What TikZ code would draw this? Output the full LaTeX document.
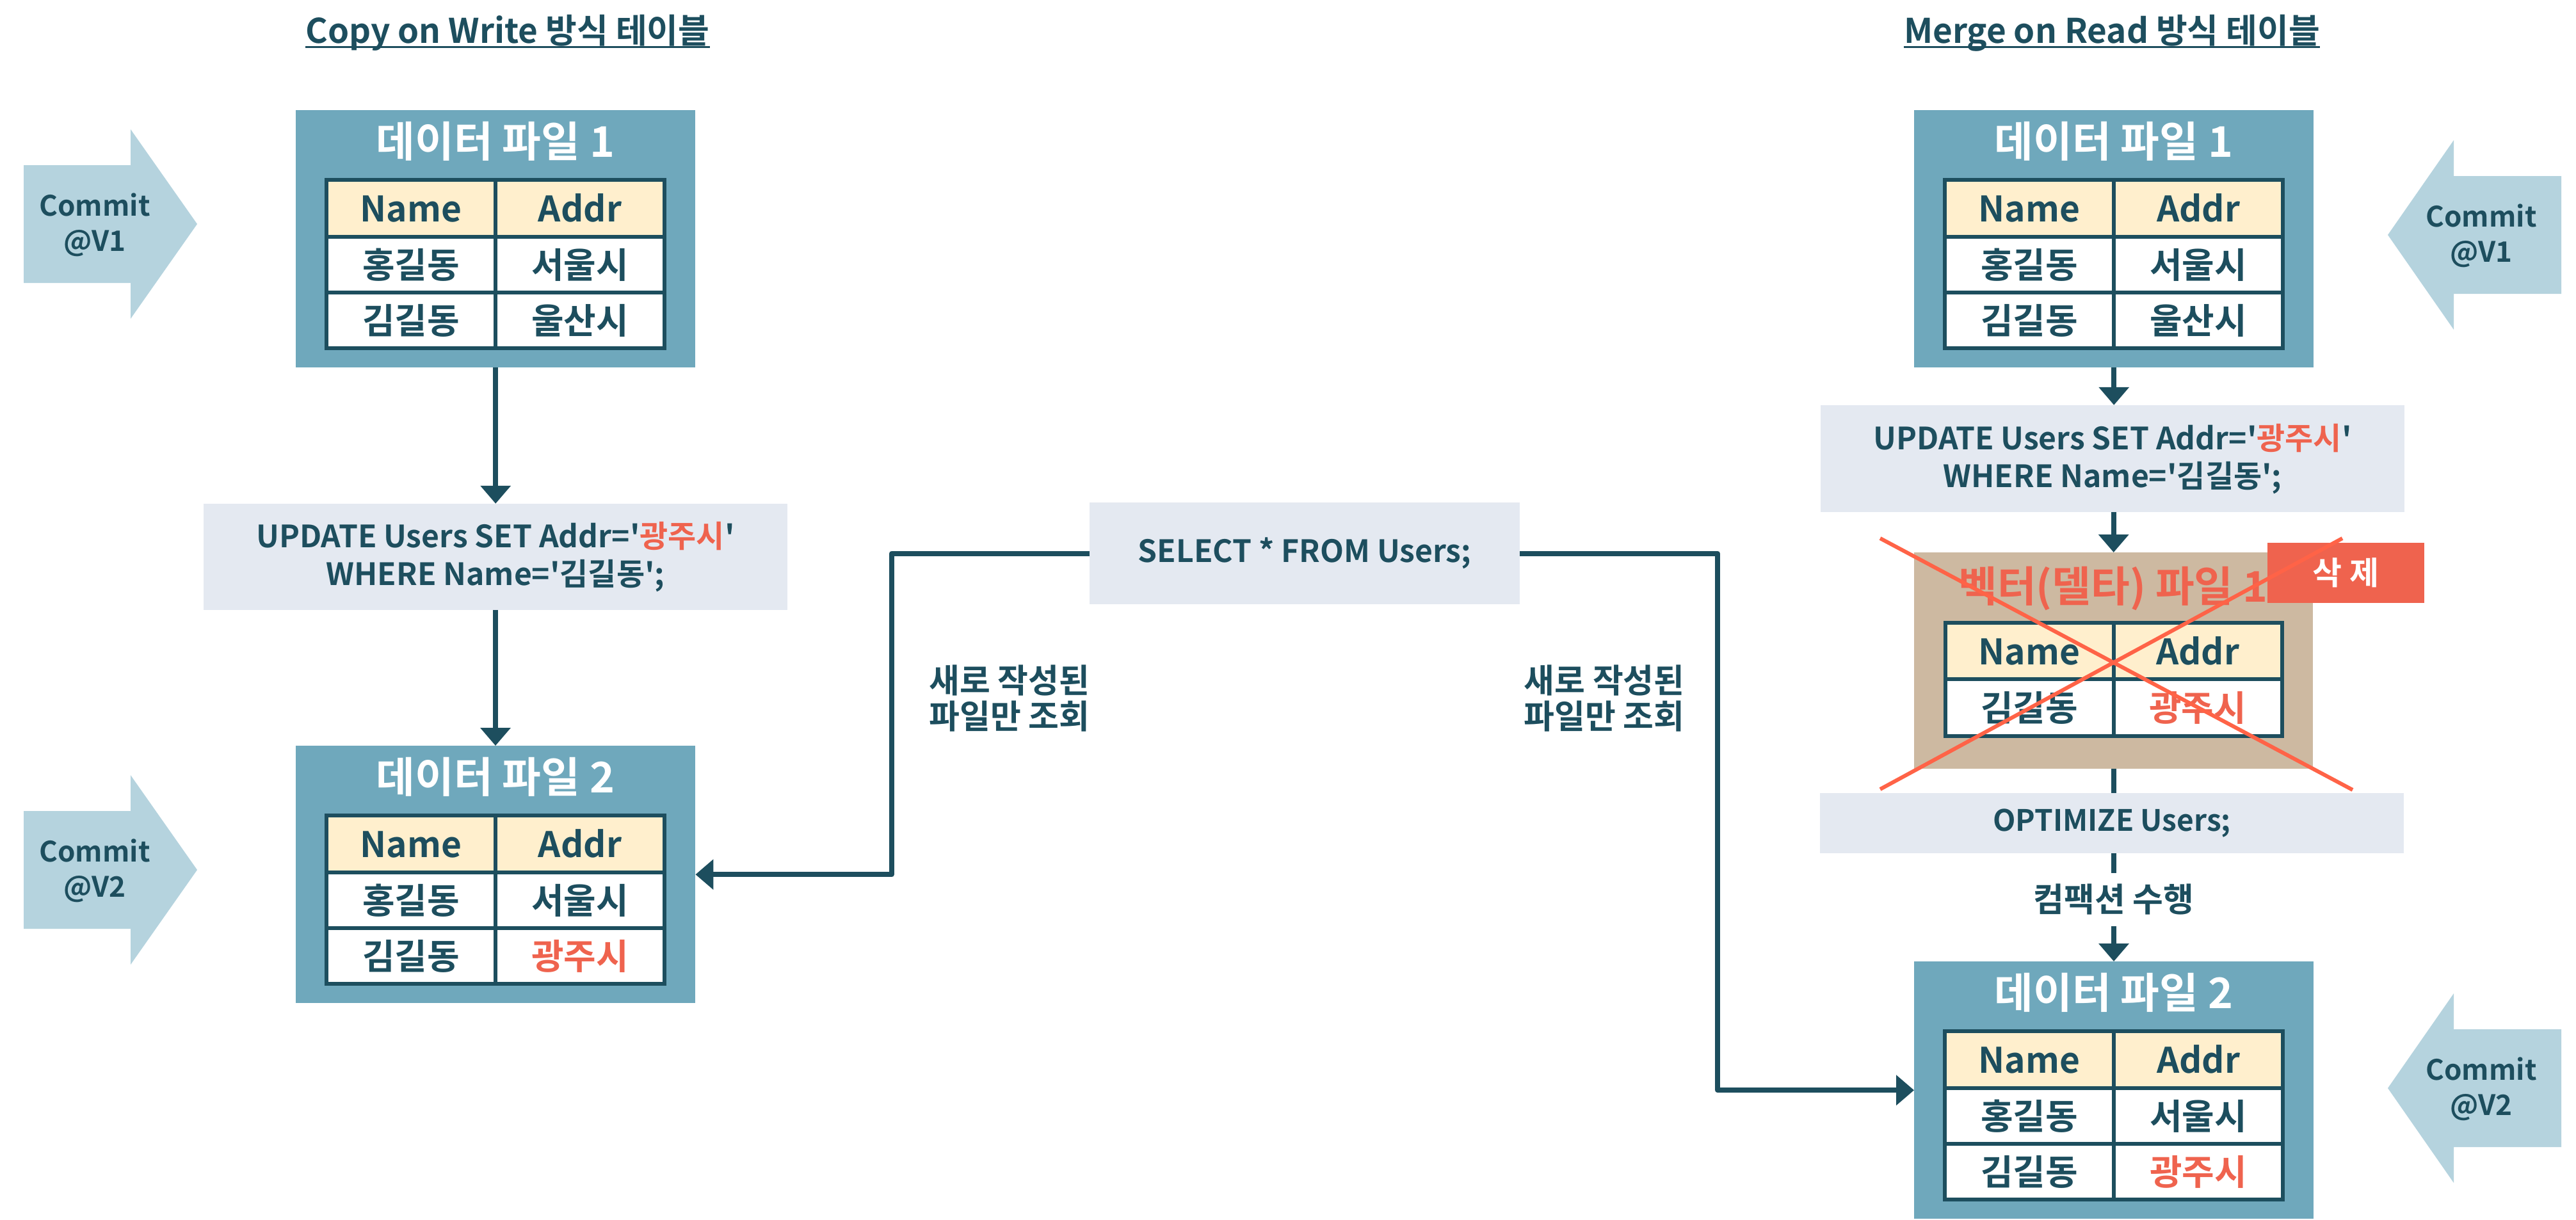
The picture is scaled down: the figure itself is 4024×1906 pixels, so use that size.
\documentclass[tikz,border=0pt]{standalone}
\usepackage{fontspec}
\newfontfamily\krb{Noto Sans CJK KR Bold}
\usetikzlibrary{arrows.meta,calc}
\definecolor{cDark}{HTML}{1D4E5E}
\definecolor{cBox}{HTML}{6FA8BC}
\definecolor{cHead}{HTML}{FFEFCD}
\definecolor{cSql}{HTML}{E4E9F1}
\definecolor{cCommit}{HTML}{B5D3DE}
\definecolor{cRed}{HTML}{EF634E}
\definecolor{cTan}{HTML}{CDB9A1}
\definecolor{cCross}{HTML}{FF6347}
\tikzset{
  dfbox/.style={fill=cBox, minimum width=624pt, minimum height=402pt, anchor=north west, inner sep=0pt},
  boxtitle/.style={text=white, font={\krb\fontsize{66}{72}\selectfont}, inner sep=0pt, text height=48pt, text depth=0pt},
  cell/.style={text=cDark, font={\krb\fontsize{55}{60}\selectfont}, inner sep=0pt, text height=42pt, text depth=0pt},
  tbl/.style={draw=cDark, line width=6pt},
  conn/.style={draw=cDark, line width=8pt, line join=round, -{Triangle[width=46pt,length=28pt]}},
  plainline/.style={draw=cDark, line width=8pt},
  sqlbox/.style={fill=cSql, text=cDark, align=center, inner sep=0pt, font={\krb\fontsize{48}{59}\selectfont}},
  lbl/.style={text=cDark, align=center, inner sep=0pt, font={\krb\fontsize{52}{56}\selectfont}},
  cmtxt/.style={text=cDark, align=center, inner sep=0pt, font={\krb\fontsize{44}{55}\selectfont}},
  ttl/.style={text=cDark, inner sep=0pt, anchor=base, font={\krb\fontsize{53}{60}\selectfont}},
}
\newcommand{\FileBox}[5]{%
  \node[dfbox] (#1) at (#2,#3) {};
  \node[boxtitle] (#1t) at ({#2+312},{#3+49}) {#4};
  \fill[cHead] ({#2+48},{#3+109}) rectangle ({#2+576},{#3+198});
  \fill[white] ({#2+48},{#3+198}) rectangle ({#2+576},{#3+372});
  \draw[tbl] ({#2+48},{#3+109}) rectangle ({#2+576},{#3+372});
  \draw[tbl] ({#2+48},{#3+198}) -- ({#2+576},{#3+198});
  \draw[tbl] ({#2+48},{#3+285}) -- ({#2+576},{#3+285});
  \draw[tbl] ({#2+312},{#3+109}) -- ({#2+312},{#3+372});
  \node[cell] (#1a) at ({#2+180},{#3+153.5}) {Name};
  \node[cell] (#1b) at ({#2+444},{#3+153.5}) {Addr};
  \node[cell] (#1c) at ({#2+180},{#3+241.5}) {홍길동};
  \node[cell] (#1d) at ({#2+444},{#3+241.5}) {서울시};
  \node[cell] (#1e) at ({#2+180},{#3+328.5}) {김길동};
  \node[cell] (#1f) at ({#2+444},{#3+328.5}) {#5};
}
\newcommand{\CommitR}[3]{% pointing right; name, center y, label
  \fill[cCommit] (37,{#2-92}) -- (204,{#2-92}) -- (204,{#2-148}) -- (308,#2) -- (204,{#2+148}) -- (204,{#2+92}) -- (37,{#2+92}) -- cycle;
  \node[cmtxt] (#1) at (148,{#2+1}) {Commit\\#3};
}
\newcommand{\CommitL}[3]{% pointing left
  \fill[cCommit] (4001,{#2-92}) -- (3833,{#2-92}) -- (3833,{#2-148}) -- (3730,#2) -- (3833,{#2+148}) -- (3833,{#2+92}) -- (4001,{#2+92}) -- cycle;
  \node[cmtxt] (#1) at (3876,{#2+1}) {Commit\\#3};
}
\begin{document}
\begin{tikzpicture}[x=1pt,y=-1pt]
\useasboundingbox[fill=white] (0,0) rectangle (4024,1906);

% titles
\node[ttl] (tl) at (793,67) {Copy on Write 방식 테이블};
\draw[cDark, line width=3pt] ([yshift=-6pt]tl.base west) -- ([yshift=-6pt]tl.base east);
\node[ttl] (tr) at (3299,67) {Merge on Read 방식 테이블};
\draw[cDark, line width=3pt] ([yshift=-6pt]tr.base west) -- ([yshift=-6pt]tr.base east);

% commit arrows
\CommitR{cl1}{350}{@V1}
\CommitR{cl2}{1359}{@V2}
\CommitL{cr1}{367}{@V1}
\CommitL{cr2}{1700}{@V2}

% left column
\FileBox{L1}{462}{172}{데이터 파일 1}{울산시}
\node[sqlbox, minimum width=912pt, minimum height=166pt] (LU) at (774,870)
  {UPDATE Users SET Addr='\textcolor{cRed}{광주시}'\\WHERE Name='김길동';};
\FileBox{L2}{462}{1165}{데이터 파일 2}{\textcolor{cRed}{광주시}}
\draw[conn] (L1.south) -- (L1.south |- LU.north);
\draw[conn] (LU.south) -- (LU.south |- L2.north);

% select
\node[sqlbox, minimum width=672pt, minimum height=159pt] (sel) at (2038,864.5) {SELECT * FROM Users;};
\coordinate (lc) at (1393,864.5);
\coordinate (rc) at (2683,864.5);
\node[lbl] (lab1) at (1577,1091) {새로 작성된\\파일만 조회};
\node[lbl] (lab2) at (2506,1091) {새로 작성된\\파일만 조회};

% right column
\FileBox{R1}{2990}{172}{데이터 파일 1}{울산시}
\node[sqlbox, minimum width=912pt, minimum height=167pt] (RU) at (3300,716.5)
  {UPDATE Users SET Addr='\textcolor{cRed}{광주시}'\\WHERE Name='김길동';};

% delta file
\node[fill=cTan, minimum width=623pt, minimum height=338pt, anchor=north west, inner sep=0pt] (D) at (2990,863) {};
\node[boxtitle, text=cRed] (Dt) at (3301,916) {벡터(델타) 파일 1};
\fill[cHead] (3039,973) rectangle (3565,1061);
\fill[white] (3039,1061) rectangle (3565,1150);
\draw[tbl] (3039,973) rectangle (3565,1150);
\draw[tbl] (3039,1061) -- (3565,1061);
\draw[tbl] (3302,973) -- (3302,1150);
\node[cell] (Da) at (3170,1017) {Name};
\node[cell] (Db) at (3433,1017) {Addr};
\node[cell] (Dc) at (3170,1105.5) {김길동};
\node[cell, text=cRed] (Dd) at (3433,1105.5) {광주시};
\node[fill=cRed, text=white, minimum width=245pt, minimum height=94pt, inner sep=0pt,
      font={\krb\fontsize{50}{56}\selectfont}] (del) at (3664.5,895) {삭 제};
\draw[cCross, line width=6pt] (2937,841) -- (3675,1234);
\draw[cCross, line width=6pt] (3659,841) -- (2937,1233);

\node[sqlbox, minimum width=912pt, minimum height=94pt, font={\krb\fontsize{46}{56}\selectfont}] (opt) at (3299,1286) {OPTIMIZE Users;};
\node[lbl, minimum height=83pt] (cp) at (3302,1405.5) {컴팩션 수행};
\FileBox{R2}{2990}{1502}{데이터 파일 2}{\textcolor{cRed}{광주시}}

\draw[conn] (R1.south) -- (R1.south |- RU.north);
\draw[conn] (RU.south -| D.north) -- (D.north);
\draw[plainline] (D.south) -- (D.south |- opt.north);
\draw[plainline] (opt.south -| cp.north) -- (cp.north);
\draw[conn] (cp.south) -- (cp.south |- R2.north);

% select connectors
\draw[conn] (sel.west) -- (lc) |- (L2.east);
\draw[conn] (sel.east) -- (rc) |- (R2.west);
\end{tikzpicture}
\end{document}
